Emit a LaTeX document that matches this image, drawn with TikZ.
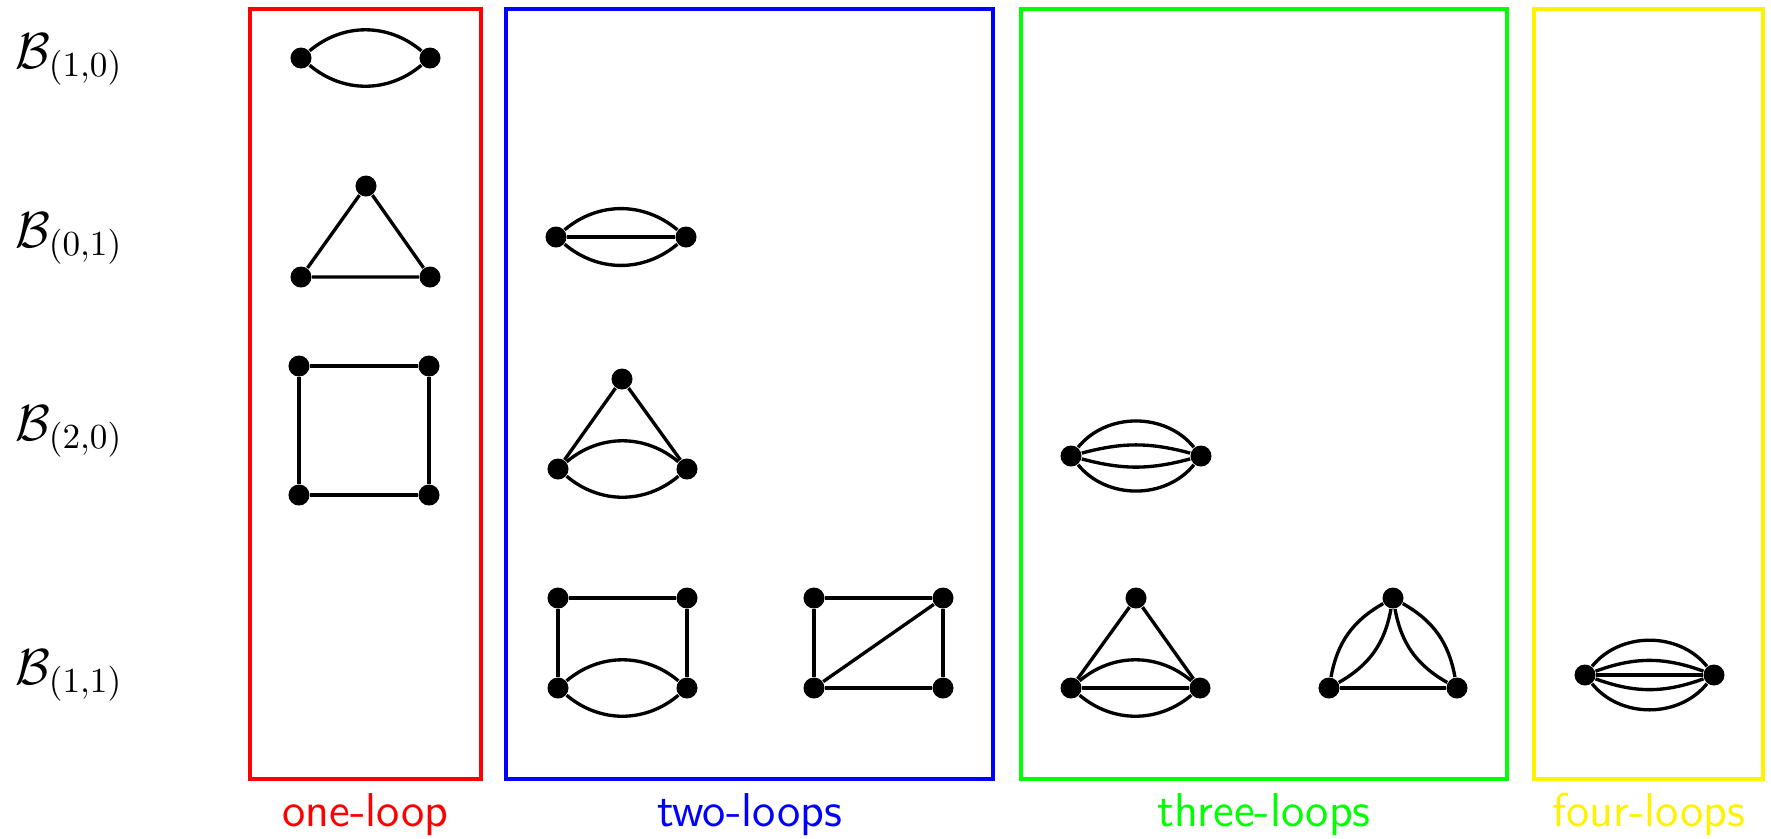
\documentclass[tikz,border=0pt]{standalone}
\usepackage{amsmath}
\begin{document}
\begin{tikzpicture}[x=0.01cm,y=-0.01cm,
  dot/.style={circle,fill=black,inner sep=0pt,minimum size=0.21cm},
  edge/.style={line width=0.95pt},
  frame/.style={line width=0.9pt},
  rowlabel/.style={anchor=base west,inner sep=0pt,font=\fontsize{14.3}{17}\selectfont},
  looplabel/.style={anchor=base,inner sep=0pt,font=\fontsize{13.5}{16}\selectfont\sffamily}]
\useasboundingbox (0,0) rectangle (1771,838);

% row labels
\node[rowlabel] (L1) at (15,68) {$\mathcal{B}_{(1,0)}$};
\node[rowlabel] (L2) at (15,247) {$\mathcal{B}_{(0,1)}$};
\node[rowlabel] (L3) at (15,440) {$\mathcal{B}_{(2,0)}$};
\node[rowlabel] (L4) at (15,684) {$\mathcal{B}_{(1,1)}$};

% frames
\draw[frame,red] (250,9) rectangle (481,779);
\draw[frame,blue] (506,9) rectangle (993,779);
\draw[frame,green] (1021,9) rectangle (1507,779);
\draw[frame,yellow] (1534,9) rectangle (1763,779);

\node[looplabel,text=red] (T1) at (365.5,826) {one-loop};
\node[looplabel,text=blue] (T2) at (749.5,826) {two-loops};
\node[looplabel,text=green] (T3) at (1264,826) {three-loops};
\node[looplabel,text=yellow] (T4) at (1648.5,826) {four-loops};

% one-loop
\node[dot] (a1) at (301,58) {};
\node[dot] (a2) at (430,58) {};
\draw[edge] (a1) to[bend left=40] (a2);
\draw[edge] (a1) to[bend right=40] (a2);

\node[dot] (t1) at (366,186) {};
\node[dot] (t2) at (301,277) {};
\node[dot] (t3) at (430,277) {};
\draw[edge] (t1) -- (t2) -- (t3) -- (t1);

\node[dot] (s1) at (299,366) {};
\node[dot] (s2) at (429,366) {};
\node[dot] (s3) at (299,495) {};
\node[dot] (s4) at (429,495) {};
\draw[edge] (s1) -- (s2) -- (s4) -- (s3) -- (s1);

% two-loops
\node[dot] (b1) at (556,237) {};
\node[dot] (b2) at (686,237) {};
\draw[edge] (b1) to[bend left=40] (b2);
\draw[edge] (b1) to[bend right=40] (b2);
\draw[edge] (b1) -- (b2);

\node[dot] (c1) at (622,379) {};
\node[dot] (c2) at (558,469) {};
\node[dot] (c3) at (687,469) {};
\draw[edge] (c2) -- (c1) -- (c3);
\draw[edge] (c2) to[bend left=40] (c3);
\draw[edge] (c2) to[bend right=40] (c3);

\node[dot] (d1) at (558,598) {};
\node[dot] (d2) at (687,598) {};
\node[dot] (d3) at (558,688) {};
\node[dot] (d4) at (687,688) {};
\draw[edge] (d3) -- (d1) -- (d2) -- (d4);
\draw[edge] (d3) to[bend left=40] (d4);
\draw[edge] (d3) to[bend right=40] (d4);

\node[dot] (e1) at (814,598) {};
\node[dot] (e2) at (943,598) {};
\node[dot] (e3) at (814,688) {};
\node[dot] (e4) at (943,688) {};
\draw[edge] (e1) -- (e2) -- (e4) -- (e3) -- (e1);
\draw[edge] (e3) -- (e2);

% three-loops
\node[dot] (f1) at (1071,456) {};
\node[dot] (f2) at (1201,456) {};
\draw[edge] (f1) to[bend left=51] (f2);
\draw[edge] (f1) to[bend right=51] (f2);
\draw[edge] (f1) to[bend left=15] (f2);
\draw[edge] (f1) to[bend right=15] (f2);

\node[dot] (g1) at (1136,598) {};
\node[dot] (g2) at (1071,688) {};
\node[dot] (g3) at (1200,688) {};
\draw[edge] (g2) -- (g1) -- (g3);
\draw[edge] (g2) -- (g3);
\draw[edge] (g2) to[bend left=40] (g3);
\draw[edge] (g2) to[bend right=40] (g3);

\node[dot] (h1) at (1393,598) {};
\node[dot] (h2) at (1329,688) {};
\node[dot] (h3) at (1457,688) {};
\draw[edge] (h2) -- (h3);
\draw[edge] (h2) to[bend left=25] (h1);
\draw[edge] (h2) to[bend right=25] (h1);
\draw[edge] (h1) to[bend left=25] (h3);
\draw[edge] (h1) to[bend right=25] (h3);

% four-loops
\node[dot] (k1) at (1585,675) {};
\node[dot] (k2) at (1714,675) {};
\draw[edge] (k1) -- (k2);
\draw[edge] (k1) to[bend left=51] (k2);
\draw[edge] (k1) to[bend right=51] (k2);
\draw[edge] (k1) to[bend left=20] (k2);
\draw[edge] (k1) to[bend right=20] (k2);
\end{tikzpicture}
\end{document}
